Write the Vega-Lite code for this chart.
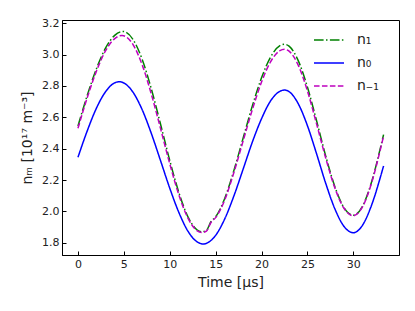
{
  "$schema": "https://vega.github.io/schema/vega-lite/v6.json",
  "width": 337,
  "height": 235,
  "autosize": {"type": "none"},
  "padding": {"left": 62, "top": 20, "right": 16, "bottom": 56},
  "config": {
    "font": "DejaVu Sans",
    "view": {"stroke": "black", "strokeWidth": 1},
    "axis": {
      "grid": false,
      "domainColor": "black",
      "tickColor": "black",
      "tickSize": -4,
      "labelFontSize": 11,
      "labelColor": "#222",
      "titleFontSize": 14,
      "titleFontWeight": "normal",
      "titleColor": "#222",
      "labelPadding": 7
    },
    "legend": {
      "orient": "none",
      "legendX": 251,
      "legendY": 4,
      "title": null,
      "symbolType": "stroke",
      "symbolSize": 900,
      "symbolStrokeWidth": 1.5,
      "labelFontSize": 14,
      "labelColor": "#222",
      "labelOffset": 12,
      "rowPadding": -5,
      "padding": 0
    }
  },
  "data": {
    "values": [
      {"s": "n₁", "t": 0, "v": 2.545}, {"s": "n₁", "t": 1, "v": 2.738}, {"s": "n₁", "t": 2, "v": 2.908}, {"s": "n₁", "t": 3, "v": 3.041}, {"s": "n₁", "t": 4, "v": 3.123}, {"s": "n₁", "t": 4.9, "v": 3.148}, {"s": "n₁", "t": 6, "v": 3.097}, {"s": "n₁", "t": 7, "v": 2.969}, {"s": "n₁", "t": 8, "v": 2.78}, {"s": "n₁", "t": 9, "v": 2.556}, {"s": "n₁", "t": 10, "v": 2.325}, {"s": "n₁", "t": 11, "v": 2.119}, {"s": "n₁", "t": 12, "v": 1.963}, {"s": "n₁", "t": 13, "v": 1.881}, {"s": "n₁", "t": 13.5, "v": 1.87}, {"s": "n₁", "t": 14, "v": 1.879}, {"s": "n₁", "t": 14.5, "v": 1.935}, {"s": "n₁", "t": 15, "v": 1.965}, {"s": "n₁", "t": 16, "v": 2.084}, {"s": "n₁", "t": 17, "v": 2.263}, {"s": "n₁", "t": 18, "v": 2.468}, {"s": "n₁", "t": 19, "v": 2.673}, {"s": "n₁", "t": 20, "v": 2.852}, {"s": "n₁", "t": 21, "v": 2.986}, {"s": "n₁", "t": 22, "v": 3.057}, {"s": "n₁", "t": 22.5, "v": 3.066}, {"s": "n₁", "t": 23, "v": 3.054}, {"s": "n₁", "t": 24, "v": 2.962}, {"s": "n₁", "t": 25, "v": 2.793}, {"s": "n₁", "t": 26, "v": 2.578}, {"s": "n₁", "t": 27, "v": 2.352}, {"s": "n₁", "t": 28, "v": 2.156}, {"s": "n₁", "t": 29, "v": 2.022}, {"s": "n₁", "t": 30, "v": 1.975}, {"s": "n₁", "t": 31, "v": 2.032}, {"s": "n₁", "t": 32, "v": 2.189}, {"s": "n₁", "t": 33, "v": 2.416}, {"s": "n₁", "t": 33.3, "v": 2.49},
      {"s": "n₀", "t": 0, "v": 2.345}, {"s": "n₀", "t": 1, "v": 2.512}, {"s": "n₀", "t": 2, "v": 2.657}, {"s": "n₀", "t": 3, "v": 2.763}, {"s": "n₀", "t": 4, "v": 2.82}, {"s": "n₀", "t": 4.5, "v": 2.827}, {"s": "n₀", "t": 5, "v": 2.819}, {"s": "n₀", "t": 6, "v": 2.76}, {"s": "n₀", "t": 7, "v": 2.648}, {"s": "n₀", "t": 8, "v": 2.496}, {"s": "n₀", "t": 9, "v": 2.323}, {"s": "n₀", "t": 10, "v": 2.148}, {"s": "n₀", "t": 11, "v": 1.992}, {"s": "n₀", "t": 12, "v": 1.872}, {"s": "n₀", "t": 13, "v": 1.805}, {"s": "n₀", "t": 13.65, "v": 1.792}, {"s": "n₀", "t": 14, "v": 1.796}, {"s": "n₀", "t": 15, "v": 1.847}, {"s": "n₀", "t": 16, "v": 1.953}, {"s": "n₀", "t": 17, "v": 2.1}, {"s": "n₀", "t": 18, "v": 2.27}, {"s": "n₀", "t": 19, "v": 2.442}, {"s": "n₀", "t": 20, "v": 2.591}, {"s": "n₀", "t": 21, "v": 2.706}, {"s": "n₀", "t": 22, "v": 2.766}, {"s": "n₀", "t": 22.5, "v": 2.774}, {"s": "n₀", "t": 23, "v": 2.764}, {"s": "n₀", "t": 24, "v": 2.687}, {"s": "n₀", "t": 25, "v": 2.547}, {"s": "n₀", "t": 26, "v": 2.367}, {"s": "n₀", "t": 27, "v": 2.178}, {"s": "n₀", "t": 28, "v": 2.015}, {"s": "n₀", "t": 29, "v": 1.903}, {"s": "n₀", "t": 30, "v": 1.864}, {"s": "n₀", "t": 31, "v": 1.911}, {"s": "n₀", "t": 32, "v": 2.041}, {"s": "n₀", "t": 33, "v": 2.228}, {"s": "n₀", "t": 33.3, "v": 2.29},
      {"s": "n₋₁", "t": 0, "v": 2.53}, {"s": "n₋₁", "t": 1, "v": 2.723}, {"s": "n₋₁", "t": 2, "v": 2.893}, {"s": "n₋₁", "t": 3, "v": 3.024}, {"s": "n₋₁", "t": 4, "v": 3.102}, {"s": "n₋₁", "t": 4.8, "v": 3.122}, {"s": "n₋₁", "t": 6, "v": 3.064}, {"s": "n₋₁", "t": 7, "v": 2.934}, {"s": "n₋₁", "t": 8, "v": 2.747}, {"s": "n₋₁", "t": 9, "v": 2.528}, {"s": "n₋₁", "t": 10, "v": 2.304}, {"s": "n₋₁", "t": 11, "v": 2.104}, {"s": "n₋₁", "t": 12, "v": 1.955}, {"s": "n₋₁", "t": 13, "v": 1.875}, {"s": "n₋₁", "t": 13.5, "v": 1.865}, {"s": "n₋₁", "t": 14, "v": 1.874}, {"s": "n₋₁", "t": 14.5, "v": 1.93}, {"s": "n₋₁", "t": 15, "v": 1.96}, {"s": "n₋₁", "t": 16, "v": 2.074}, {"s": "n₋₁", "t": 17, "v": 2.25}, {"s": "n₋₁", "t": 18, "v": 2.45}, {"s": "n₋₁", "t": 19, "v": 2.649}, {"s": "n₋₁", "t": 20, "v": 2.825}, {"s": "n₋₁", "t": 21, "v": 2.956}, {"s": "n₋₁", "t": 22, "v": 3.025}, {"s": "n₋₁", "t": 22.5, "v": 3.034}, {"s": "n₋₁", "t": 23, "v": 3.022}, {"s": "n₋₁", "t": 24, "v": 2.933}, {"s": "n₋₁", "t": 25, "v": 2.769}, {"s": "n₋₁", "t": 26, "v": 2.558}, {"s": "n₋₁", "t": 27, "v": 2.339}, {"s": "n₋₁", "t": 28, "v": 2.148}, {"s": "n₋₁", "t": 29, "v": 2.018}, {"s": "n₋₁", "t": 30, "v": 1.972}, {"s": "n₋₁", "t": 31, "v": 2.028}, {"s": "n₋₁", "t": 32, "v": 2.183}, {"s": "n₋₁", "t": 33, "v": 2.407}, {"s": "n₋₁", "t": 33.3, "v": 2.48}
    ]
  },
  "mark": {"type": "line", "strokeWidth": 1.5, "interpolate": "monotone"},
  "encoding": {
    "x": {
      "field": "t",
      "type": "quantitative",
      "scale": {"domain": [-1.74, 34.98], "nice": false, "zero": false},
      "axis": {"title": "Time [µs]", "values": [0, 5, 10, 15, 20, 25, 30], "titlePadding": 6}
    },
    "y": {
      "field": "v",
      "type": "quantitative",
      "scale": {"domain": [1.7215, 3.221], "nice": false, "zero": false},
      "axis": {"title": "nₘ [10¹⁷ m⁻³]", "values": [1.8, 2.0, 2.2, 2.4, 2.6, 2.8, 3.0, 3.2], "format": ".1f", "titlePadding": 7}
    },
    "color": {
      "field": "s",
      "type": "nominal",
      "scale": {"domain": ["n₁", "n₀", "n₋₁"], "range": ["#008000", "#0000ff", "#bf00bf"]}
    },
    "strokeDash": {
      "field": "s",
      "type": "nominal",
      "scale": {"domain": ["n₁", "n₀", "n₋₁"], "range": [[9.6, 2.4, 1.5, 2.4], [1, 0], [5.55, 2.4]]}
    }
  }
}
